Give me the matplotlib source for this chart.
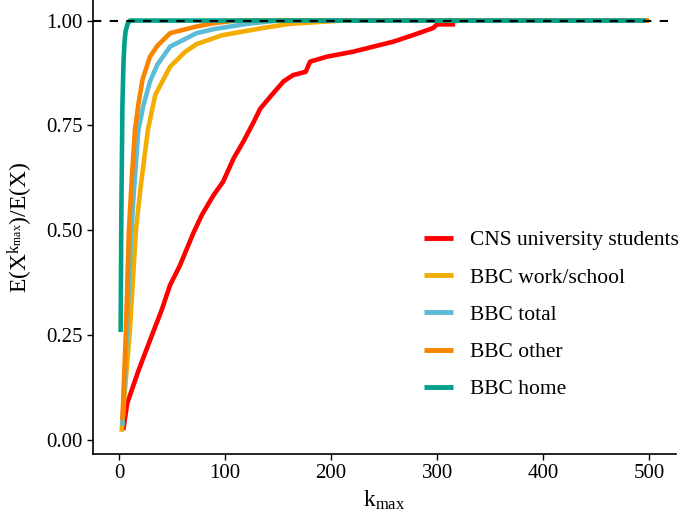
"""Truncated mean ratio versus k_max for contact networks."""

import matplotlib

matplotlib.use("Agg")
import matplotlib.pyplot as plt

# CNS university students
cns_k = [3.8, 7.5, 18, 29, 40, 48, 57, 70, 78, 89, 98, 108, 117, 127, 133, 144,
         155, 164, 176, 180, 196, 221, 240, 259, 278, 296, 300, 317]
cns_y = [0.024, 0.088, 0.165, 0.238, 0.31, 0.37, 0.415, 0.494, 0.537, 0.584,
         0.616, 0.672, 0.711, 0.759, 0.79, 0.823, 0.855, 0.87, 0.878, 0.902,
         0.914, 0.926, 0.938, 0.95, 0.966, 0.982, 0.991, 0.991]

# BBC work/school
work_k = [2.2, 5, 10, 15.7, 20, 27, 34, 48, 62, 73, 97, 135, 160, 210, 500]
work_y = [0.02, 0.11, 0.26, 0.5, 0.6, 0.739, 0.823, 0.89, 0.925, 0.944, 0.965,
          0.982, 0.992, 1.0, 1.0]

# BBC total
total_k = [3, 7, 11, 14, 18, 23, 29, 36, 48, 73, 90, 120, 150, 500]
total_y = [0.035, 0.25, 0.48, 0.6, 0.739, 0.8, 0.855, 0.895, 0.938, 0.97,
           0.98, 0.992, 1.0, 1.0]

# BBC other
other_k = [3, 6.3, 9.1, 12, 14.8, 18, 22, 29, 36, 48, 73, 90, 110, 500]
other_y = [0.048, 0.26, 0.5, 0.63, 0.739, 0.8, 0.86, 0.914, 0.94, 0.97, 0.986,
           0.994, 1.0, 1.0]

# BBC home
home_k = [1.3, 2, 3, 4, 5, 6, 8, 10, 497]
home_y = [0.258, 0.55, 0.80, 0.90, 0.95, 0.975, 0.993, 1.0, 1.0]

series = [
    ("CNS university students", cns_k, cns_y, "#FF0000"),
    ("BBC work/school", work_k, work_y, "#F2AD00"),
    ("BBC total", total_k, total_y, "#5BBCD6"),
    ("BBC other", other_k, other_y, "#F98400"),
    ("BBC home", home_k, home_y, "#00A08A"),
]

x_ticks = [0, 100, 200, 300, 400, 500]
y_ticks = [0.0, 0.25, 0.5, 0.75, 1.0]

plt.rcParams["font.family"] = ["Liberation Serif", "DejaVu Serif"]
plt.rcParams["mathtext.fontset"] = "custom"
plt.rcParams["mathtext.rm"] = "Liberation Serif"
plt.rcParams["mathtext.it"] = "Liberation Serif:italic"

fig = plt.figure(figsize=(6.81, 5.16), dpi=100)
ax = fig.add_axes([0.137, 0.12, 0.855, 0.88])

for label, k, y, color in series:
    ax.plot(k, y, color=color, lw=3.3, label=label, solid_capstyle="butt")
ax.axhline(1.0, color="black", lw=1.5, ls=(0, (4, 4)), zorder=5)

ax.set_xlim(-24.5, 525)
ax.set_ylim(-0.033, 1.049)
ax.set_xticks(x_ticks)
ax.set_yticks(y_ticks)
ax.set_yticklabels([f"{v:.2f}" for v in y_ticks])
ax.tick_params(labelsize=15, length=4, width=1, colors="black", direction="out")
for side in ("top", "right"):
    ax.spines[side].set_visible(False)
for side in ("left", "bottom"):
    ax.spines[side].set_linewidth(1.2)

ax.set_xlabel(r"$\mathrm{k_{max}}$", fontsize=17, labelpad=4)
ax.set_ylabel(r"$\mathrm{E(X^{k_{max}})/E(X)}$", fontsize=17, labelpad=8)

leg = ax.legend(loc="upper left", bbox_to_anchor=(0.553, 0.512), frameon=False,
                fontsize=15.5, handlelength=1.35, handletextpad=0.78,
                labelspacing=0.8, borderaxespad=0)
for line in leg.get_lines():
    line.set_linewidth(3.5)

fig.savefig("out.png", dpi=100)
